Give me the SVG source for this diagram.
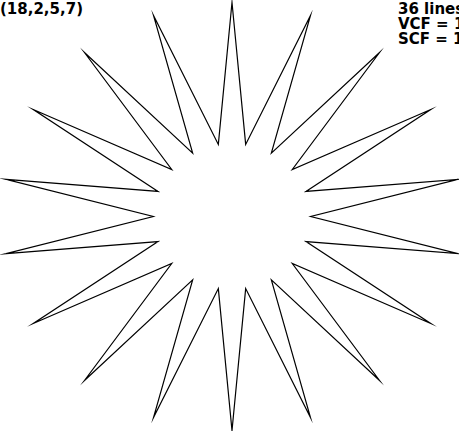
<svg xmlns="http://www.w3.org/2000/svg" width="459" height="431" viewBox="0 0 459 431">
<style>
.t{font-family:"DejaVu Sans","Liberation Sans",sans-serif;font-weight:bold;font-size:15px;fill:#000}
.star{fill:none;stroke:#000;stroke-width:1.2;stroke-linejoin:miter;stroke-miterlimit:40}
</style>
<rect width="459" height="431" fill="#fff"/>
<g id="label-left"><text class="t" x="0" y="13.5">(18,2,5,7)</text></g>
<g id="label-right">
<text class="t" x="398" y="13.5">36 lines</text>
<text class="t" x="398" y="28.5">VCF = 1</text>
<text class="t" x="398" y="43.5">SCF = 1</text>
</g>
<g id="star">
<polygon class="star" points="232,2.5 245.67,144.41 310.49,15.41 271.35,153.11 379.52,52.57 292.29,169.45 430.75,109.5 305.95,191.46 458.01,179.34 310.7,216.5 458.01,253.66 305.95,241.54 430.75,323.5 292.29,263.55 379.52,380.43 271.35,279.89 310.49,417.59 245.67,288.59 232,430.5 218.33,288.59 153.51,417.59 192.65,279.89 84.48,380.43 171.71,263.55 33.25,323.5 158.05,241.54 5.99,253.66 153.3,216.5 5.99,179.34 158.05,191.46 33.25,109.5 171.71,169.45 84.48,52.57 192.65,153.11 153.51,15.41 218.33,144.41"/>
</g>
</svg>
